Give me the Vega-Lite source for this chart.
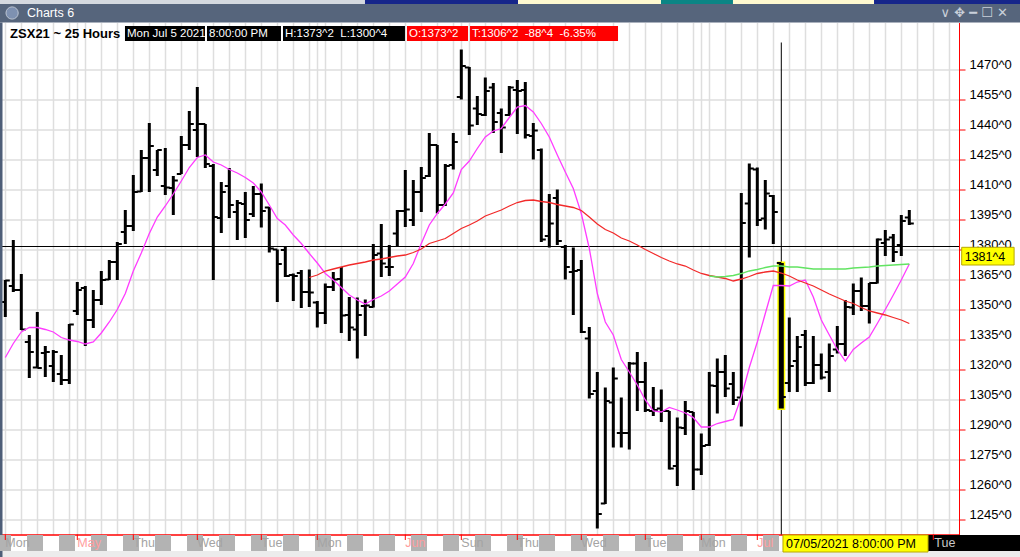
{
  "$schema": "https://vega.github.io/schema/vega-lite/v6.json",
  "width": 959,
  "height": 512,
  "autosize": {"type": "none"},
  "padding": {"left": 0, "top": 22.5, "right": 61, "bottom": 22.5},
  "background": "white",
  "config": {
    "view": {"stroke": null},
    "text": {"font": "Liberation Sans"},
    "axis": {"labelFont": "Liberation Sans"}
  },
  "datasets": {
    "bars": [
      {"n": 1, "open": 1353.75, "high": 1364.75, "low": 1346.25, "close": 1364.5},
      {"n": 2, "open": 1361.75, "high": 1384.75, "low": 1358.75, "close": 1359.75},
      {"n": 3, "open": 1359.75, "high": 1367.75, "low": 1339.75, "close": 1340},
      {"n": 4, "open": 1333.75, "high": 1337.25, "low": 1315.75, "close": 1328.75},
      {"n": 5, "open": 1321, "high": 1348.75, "low": 1320.75, "close": 1320.75},
      {"n": 6, "open": 1328.25, "high": 1331.75, "low": 1316.25, "close": 1328.75},
      {"n": 7, "open": 1321.75, "high": 1329.75, "low": 1313.75, "close": 1328.75},
      {"n": 8, "open": 1317.75, "high": 1327.25, "low": 1312.25, "close": 1314.75},
      {"n": 9, "open": 1314.75, "high": 1342.75, "low": 1312.75, "close": 1342.5},
      {"n": 10, "open": 1349.25, "high": 1363.75, "low": 1347.25, "close": 1359.75},
      {"n": 11, "open": 1360.75, "high": 1361.75, "low": 1331.75, "close": 1344.75},
      {"n": 12, "open": 1344.75, "high": 1359.75, "low": 1340.75, "close": 1354.75},
      {"n": 13, "open": 1354.75, "high": 1369.25, "low": 1352.25, "close": 1364.75},
      {"n": 14, "open": 1365, "high": 1374.75, "low": 1364.75, "close": 1373.75},
      {"n": 15, "open": 1373.75, "high": 1383.75, "low": 1364.75, "close": 1382.75},
      {"n": 16, "open": 1388.75, "high": 1399.75, "low": 1382.75, "close": 1391.75},
      {"n": 17, "open": 1391.75, "high": 1417.25, "low": 1389.25, "close": 1408.75},
      {"n": 18, "open": 1409, "high": 1429.75, "low": 1408.75, "close": 1425.75},
      {"n": 19, "open": 1425.75, "high": 1443.25, "low": 1408.75, "close": 1431.75},
      {"n": 20, "open": 1419.75, "high": 1429.75, "low": 1416.75, "close": 1429.75},
      {"n": 21, "open": 1411.75, "high": 1430.75, "low": 1407.25, "close": 1411},
      {"n": 22, "open": 1410.75, "high": 1416.75, "low": 1397.25, "close": 1414.5},
      {"n": 23, "open": 1417.75, "high": 1436.75, "low": 1417.75, "close": 1432.25},
      {"n": 24, "open": 1432.25, "high": 1449.25, "low": 1429.75, "close": 1442.75},
      {"n": 25, "open": 1439.75, "high": 1461.25, "low": 1426.25, "close": 1442.75},
      {"n": 26, "open": 1442.75, "high": 1442.75, "low": 1420.75, "close": 1422.75},
      {"n": 27, "open": 1421.75, "high": 1422.75, "low": 1364.75, "close": 1396.25},
      {"n": 28, "open": 1395.75, "high": 1413.75, "low": 1388.25, "close": 1408.75},
      {"n": 29, "open": 1411.75, "high": 1420.75, "low": 1395.75, "close": 1402.25},
      {"n": 30, "open": 1398.75, "high": 1404.75, "low": 1384.75, "close": 1403.25},
      {"n": 31, "open": 1402.75, "high": 1408.75, "low": 1385.75, "close": 1394.75},
      {"n": 32, "open": 1397.75, "high": 1411.75, "low": 1396.25, "close": 1407.75},
      {"n": 33, "open": 1407.75, "high": 1413, "low": 1391, "close": 1399.25},
      {"n": 34, "open": 1401, "high": 1401.25, "low": 1378.5, "close": 1380.5},
      {"n": 35, "open": 1380, "high": 1380, "low": 1353.75, "close": 1372.75},
      {"n": 36, "open": 1379.75, "high": 1381.25, "low": 1366.25, "close": 1366.75},
      {"n": 37, "open": 1367.25, "high": 1368, "low": 1354.25, "close": 1366.75},
      {"n": 38, "open": 1368.25, "high": 1369.75, "low": 1350.75, "close": 1358.75},
      {"n": 39, "open": 1358.75, "high": 1370, "low": 1351.25, "close": 1358.5},
      {"n": 40, "open": 1353.5, "high": 1354.25, "low": 1341, "close": 1348.25},
      {"n": 41, "open": 1348.25, "high": 1363, "low": 1342.75, "close": 1361.25},
      {"n": 42, "open": 1361.25, "high": 1368.75, "low": 1359.25, "close": 1365},
      {"n": 43, "open": 1365.25, "high": 1371.25, "low": 1338.25, "close": 1347},
      {"n": 44, "open": 1347.25, "high": 1356.25, "low": 1334.25, "close": 1341},
      {"n": 45, "open": 1340, "high": 1356, "low": 1325.5, "close": 1347.25},
      {"n": 46, "open": 1351.75, "high": 1355, "low": 1336.75, "close": 1352},
      {"n": 47, "open": 1351.25, "high": 1382.75, "low": 1351, "close": 1377.25},
      {"n": 48, "open": 1378, "high": 1392.75, "low": 1366.25, "close": 1373},
      {"n": 49, "open": 1371.25, "high": 1382.25, "low": 1366.75, "close": 1371.25},
      {"n": 50, "open": 1388, "high": 1399.75, "low": 1381.25, "close": 1399.25},
      {"n": 51, "open": 1399.25, "high": 1419.75, "low": 1391.25, "close": 1400},
      {"n": 52, "open": 1394.75, "high": 1414.75, "low": 1391.75, "close": 1408.75},
      {"n": 53, "open": 1408.75, "high": 1421.25, "low": 1398.75, "close": 1415.75},
      {"n": 54, "open": 1416.75, "high": 1438.25, "low": 1416.25, "close": 1432.25},
      {"n": 55, "open": 1432.25, "high": 1432.25, "low": 1398, "close": 1402.25},
      {"n": 56, "open": 1402.25, "high": 1422.75, "low": 1401.75, "close": 1421.75},
      {"n": 57, "open": 1422.25, "high": 1438.25, "low": 1420, "close": 1433.75},
      {"n": 58, "open": 1456.25, "high": 1480, "low": 1455, "close": 1471.75},
      {"n": 59, "open": 1471, "high": 1471.25, "low": 1437.25, "close": 1442},
      {"n": 60, "open": 1450.5, "high": 1456.75, "low": 1442.25, "close": 1447.75},
      {"n": 61, "open": 1447.25, "high": 1466, "low": 1446.75, "close": 1459.25},
      {"n": 62, "open": 1461, "high": 1463.25, "low": 1438.25, "close": 1443.75},
      {"n": 63, "open": 1448.25, "high": 1450.5, "low": 1428.25, "close": 1441},
      {"n": 64, "open": 1447.25, "high": 1461.75, "low": 1446.75, "close": 1461},
      {"n": 65, "open": 1459.75, "high": 1464.75, "low": 1437.75, "close": 1459.25},
      {"n": 66, "open": 1459.75, "high": 1463.75, "low": 1435.5, "close": 1437.25},
      {"n": 67, "open": 1436.75, "high": 1443.25, "low": 1425, "close": 1439.5},
      {"n": 68, "open": 1429.75, "high": 1430.5, "low": 1383.75, "close": 1385},
      {"n": 69, "open": 1386.75, "high": 1407.75, "low": 1381, "close": 1393},
      {"n": 70, "open": 1405.75, "high": 1410, "low": 1382.25, "close": 1384.25},
      {"n": 71, "open": 1381.25, "high": 1382.25, "low": 1365, "close": 1371.25},
      {"n": 72, "open": 1368.75, "high": 1381, "low": 1347.25, "close": 1369.25},
      {"n": 73, "open": 1369.75, "high": 1374.75, "low": 1338.25, "close": 1338.75},
      {"n": 74, "open": 1335.5, "high": 1341.25, "low": 1305.5, "close": 1307.75},
      {"n": 75, "open": 1309.25, "high": 1318.75, "low": 1240.5, "close": 1247.75},
      {"n": 76, "open": 1253, "high": 1311, "low": 1252.75, "close": 1304.25},
      {"n": 77, "open": 1303.5, "high": 1321, "low": 1281, "close": 1315.5},
      {"n": 78, "open": 1288.25, "high": 1306, "low": 1281, "close": 1288.25},
      {"n": 79, "open": 1288.25, "high": 1323.75, "low": 1280, "close": 1323},
      {"n": 80, "open": 1323, "high": 1328.75, "low": 1299.25, "close": 1313.75},
      {"n": 81, "open": 1313.75, "high": 1323.75, "low": 1298.75, "close": 1299.75},
      {"n": 82, "open": 1299.25, "high": 1311.25, "low": 1296.75, "close": 1299.75},
      {"n": 83, "open": 1300.5, "high": 1310, "low": 1293.75, "close": 1299.25},
      {"n": 84, "open": 1299.25, "high": 1299.25, "low": 1270, "close": 1270.5},
      {"n": 85, "open": 1271.75, "high": 1296, "low": 1261.75, "close": 1291},
      {"n": 86, "open": 1290.75, "high": 1304.25, "low": 1287.25, "close": 1299.25},
      {"n": 87, "open": 1298.75, "high": 1298.75, "low": 1259.75, "close": 1270},
      {"n": 88, "open": 1270, "high": 1288, "low": 1267.25, "close": 1281.75},
      {"n": 89, "open": 1282.25, "high": 1318.75, "low": 1281.75, "close": 1312},
      {"n": 90, "open": 1311.75, "high": 1325.5, "low": 1298, "close": 1318.75},
      {"n": 91, "open": 1318.75, "high": 1327.25, "low": 1306.25, "close": 1310.5},
      {"n": 92, "open": 1312.75, "high": 1318.75, "low": 1302.25, "close": 1304.75},
      {"n": 93, "open": 1306, "high": 1408.25, "low": 1291.5, "close": 1393.25},
      {"n": 94, "open": 1403, "high": 1423, "low": 1376, "close": 1420.5},
      {"n": 95, "open": 1420, "high": 1421, "low": 1391.75, "close": 1394.75},
      {"n": 96, "open": 1395.5, "high": 1414.75, "low": 1390, "close": 1408},
      {"n": 97, "open": 1406.75, "high": 1407.25, "low": 1382.75, "close": 1398.75},
      {"n": 98, "open": 1373.25, "high": 1373.25, "low": 1300.5, "close": 1306.25},
      {"n": 99, "open": 1313.25, "high": 1346, "low": 1308.75, "close": 1321.75},
      {"n": 100, "open": 1324.25, "high": 1336.75, "low": 1308.75, "close": 1331.25},
      {"n": 101, "open": 1337.25, "high": 1339.75, "low": 1311.75, "close": 1313.25},
      {"n": 102, "open": 1313.25, "high": 1336.75, "low": 1312.75, "close": 1322.25},
      {"n": 103, "open": 1322.25, "high": 1328, "low": 1315, "close": 1316},
      {"n": 104, "open": 1318.75, "high": 1333, "low": 1308.75, "close": 1326.75},
      {"n": 105, "open": 1330, "high": 1341.75, "low": 1328, "close": 1332.75},
      {"n": 106, "open": 1332.75, "high": 1354.75, "low": 1326.75, "close": 1351.25},
      {"n": 107, "open": 1351, "high": 1363, "low": 1347.25, "close": 1359.25},
      {"n": 108, "open": 1359.25, "high": 1366, "low": 1349.25, "close": 1351.75},
      {"n": 109, "open": 1351.75, "high": 1363.25, "low": 1343, "close": 1363.25},
      {"n": 110, "open": 1363.25, "high": 1385.5, "low": 1363, "close": 1385},
      {"n": 111, "open": 1383.25, "high": 1389.75, "low": 1376.75, "close": 1385},
      {"n": 112, "open": 1386, "high": 1387.75, "low": 1373.75, "close": 1378.75},
      {"n": 113, "open": 1382.25, "high": 1397.25, "low": 1376.75, "close": 1394.25},
      {"n": 114, "open": 1396, "high": 1399.75, "low": 1392.25, "close": 1393}
    ],
    "studies": [
      {"n": 1, "study": "fast", "value": 1326}, {"n": 2, "study": "fast", "value": 1333}, {"n": 3, "study": "fast", "value": 1338.75}, {"n": 4, "study": "fast", "value": 1341}, {"n": 5, "study": "fast", "value": 1341},
      {"n": 6, "study": "fast", "value": 1340}, {"n": 7, "study": "fast", "value": 1338.75}, {"n": 8, "study": "fast", "value": 1336}, {"n": 9, "study": "fast", "value": 1334.75}, {"n": 10, "study": "fast", "value": 1334},
      {"n": 11, "study": "fast", "value": 1332.75}, {"n": 12, "study": "fast", "value": 1333.75}, {"n": 13, "study": "fast", "value": 1338.25}, {"n": 14, "study": "fast", "value": 1343.75}, {"n": 15, "study": "fast", "value": 1350},
      {"n": 16, "study": "fast", "value": 1358}, {"n": 17, "study": "fast", "value": 1369.25}, {"n": 18, "study": "fast", "value": 1378.25}, {"n": 19, "study": "fast", "value": 1388}, {"n": 20, "study": "fast", "value": 1396.25},
      {"n": 21, "study": "fast", "value": 1401.75}, {"n": 22, "study": "fast", "value": 1407.75}, {"n": 23, "study": "fast", "value": 1414.25}, {"n": 24, "study": "fast", "value": 1421}, {"n": 25, "study": "fast", "value": 1426},
      {"n": 26, "study": "fast", "value": 1427.25}, {"n": 27, "study": "fast", "value": 1423.75}, {"n": 28, "study": "fast", "value": 1422.25}, {"n": 29, "study": "fast", "value": 1420}, {"n": 30, "study": "fast", "value": 1418.25},
      {"n": 31, "study": "fast", "value": 1416}, {"n": 32, "study": "fast", "value": 1413.25}, {"n": 33, "study": "fast", "value": 1408.75}, {"n": 34, "study": "fast", "value": 1402.25}, {"n": 35, "study": "fast", "value": 1395.5},
      {"n": 36, "study": "fast", "value": 1392.25}, {"n": 37, "study": "fast", "value": 1387.25}, {"n": 38, "study": "fast", "value": 1383}, {"n": 39, "study": "fast", "value": 1378}, {"n": 40, "study": "fast", "value": 1373.25},
      {"n": 41, "study": "fast", "value": 1368}, {"n": 42, "study": "fast", "value": 1364.75}, {"n": 43, "study": "fast", "value": 1361}, {"n": 44, "study": "fast", "value": 1357.25}, {"n": 45, "study": "fast", "value": 1354.75},
      {"n": 46, "study": "fast", "value": 1352.75}, {"n": 47, "study": "fast", "value": 1355}, {"n": 48, "study": "fast", "value": 1356.75}, {"n": 49, "study": "fast", "value": 1359.25}, {"n": 50, "study": "fast", "value": 1362.75},
      {"n": 51, "study": "fast", "value": 1366.25}, {"n": 52, "study": "fast", "value": 1373}, {"n": 53, "study": "fast", "value": 1383}, {"n": 54, "study": "fast", "value": 1392.25}, {"n": 55, "study": "fast", "value": 1398},
      {"n": 56, "study": "fast", "value": 1402.75}, {"n": 57, "study": "fast", "value": 1408.25}, {"n": 58, "study": "fast", "value": 1420}, {"n": 59, "study": "fast", "value": 1424.25}, {"n": 60, "study": "fast", "value": 1430.5},
      {"n": 61, "study": "fast", "value": 1436.25}, {"n": 62, "study": "fast", "value": 1439.25}, {"n": 63, "study": "fast", "value": 1440.5}, {"n": 64, "study": "fast", "value": 1446}, {"n": 65, "study": "fast", "value": 1451.25},
      {"n": 66, "study": "fast", "value": 1452}, {"n": 67, "study": "fast", "value": 1448.75}, {"n": 68, "study": "fast", "value": 1443}, {"n": 69, "study": "fast", "value": 1436.25}, {"n": 70, "study": "fast", "value": 1427.25},
      {"n": 71, "study": "fast", "value": 1418.75}, {"n": 72, "study": "fast", "value": 1410.5}, {"n": 73, "study": "fast", "value": 1398}, {"n": 74, "study": "fast", "value": 1380.5}, {"n": 75, "study": "fast", "value": 1358},
      {"n": 76, "study": "fast", "value": 1343.75}, {"n": 77, "study": "fast", "value": 1337.25}, {"n": 78, "study": "fast", "value": 1325}, {"n": 79, "study": "fast", "value": 1318.75}, {"n": 80, "study": "fast", "value": 1312.25},
      {"n": 81, "study": "fast", "value": 1304.75}, {"n": 82, "study": "fast", "value": 1299.25}, {"n": 83, "study": "fast", "value": 1298.75}, {"n": 84, "study": "fast", "value": 1301}, {"n": 85, "study": "fast", "value": 1299.75},
      {"n": 86, "study": "fast", "value": 1298.25}, {"n": 87, "study": "fast", "value": 1296}, {"n": 88, "study": "fast", "value": 1291.25}, {"n": 89, "study": "fast", "value": 1291.25}, {"n": 90, "study": "fast", "value": 1293},
      {"n": 91, "study": "fast", "value": 1294}, {"n": 92, "study": "fast", "value": 1295}, {"n": 93, "study": "fast", "value": 1306.25}, {"n": 94, "study": "fast", "value": 1321}, {"n": 95, "study": "fast", "value": 1333.75},
      {"n": 96, "study": "fast", "value": 1348}, {"n": 97, "study": "fast", "value": 1362}, {"n": 98, "study": "fast", "value": 1362}, {"n": 99, "study": "fast", "value": 1361.75}, {"n": 100, "study": "fast", "value": 1363.75},
      {"n": 101, "study": "fast", "value": 1364.75}, {"n": 102, "study": "fast", "value": 1356.25}, {"n": 103, "study": "fast", "value": 1344.75}, {"n": 104, "study": "fast", "value": 1337.25}, {"n": 105, "study": "fast", "value": 1330},
      {"n": 106, "study": "fast", "value": 1324.25}, {"n": 107, "study": "fast", "value": 1330}, {"n": 108, "study": "fast", "value": 1333.25}, {"n": 109, "study": "fast", "value": 1336.25}, {"n": 110, "study": "fast", "value": 1343},
      {"n": 111, "study": "fast", "value": 1350}, {"n": 112, "study": "fast", "value": 1357.25}, {"n": 113, "study": "fast", "value": 1364.75}, {"n": 114, "study": "fast", "value": 1372.75},
      {"n": 39, "study": "slow", "value": 1366}, {"n": 40, "study": "slow", "value": 1367.25}, {"n": 41, "study": "slow", "value": 1369.25}, {"n": 42, "study": "slow", "value": 1370.25}, {"n": 43, "study": "slow", "value": 1371.25},
      {"n": 44, "study": "slow", "value": 1372.25}, {"n": 45, "study": "slow", "value": 1373}, {"n": 46, "study": "slow", "value": 1373.75}, {"n": 47, "study": "slow", "value": 1374.75}, {"n": 48, "study": "slow", "value": 1375.25},
      {"n": 49, "study": "slow", "value": 1376}, {"n": 50, "study": "slow", "value": 1376.75}, {"n": 51, "study": "slow", "value": 1377.25}, {"n": 52, "study": "slow", "value": 1378.5}, {"n": 53, "study": "slow", "value": 1380.25},
      {"n": 54, "study": "slow", "value": 1383}, {"n": 55, "study": "slow", "value": 1384.25}, {"n": 56, "study": "slow", "value": 1385.5}, {"n": 57, "study": "slow", "value": 1388}, {"n": 58, "study": "slow", "value": 1390.5},
      {"n": 59, "study": "slow", "value": 1392.25}, {"n": 60, "study": "slow", "value": 1394.25}, {"n": 61, "study": "slow", "value": 1396.75}, {"n": 62, "study": "slow", "value": 1398.25}, {"n": 63, "study": "slow", "value": 1399.75},
      {"n": 64, "study": "slow", "value": 1401.75}, {"n": 65, "study": "slow", "value": 1403.5}, {"n": 66, "study": "slow", "value": 1404.5}, {"n": 67, "study": "slow", "value": 1404.75}, {"n": 68, "study": "slow", "value": 1404},
      {"n": 69, "study": "slow", "value": 1403.5}, {"n": 70, "study": "slow", "value": 1402.5}, {"n": 71, "study": "slow", "value": 1401.75}, {"n": 72, "study": "slow", "value": 1401}, {"n": 73, "study": "slow", "value": 1399.5},
      {"n": 74, "study": "slow", "value": 1396.25}, {"n": 75, "study": "slow", "value": 1392.75}, {"n": 76, "study": "slow", "value": 1390}, {"n": 77, "study": "slow", "value": 1388.25}, {"n": 78, "study": "slow", "value": 1385.75},
      {"n": 79, "study": "slow", "value": 1384.25}, {"n": 80, "study": "slow", "value": 1382.25}, {"n": 81, "study": "slow", "value": 1380}, {"n": 82, "study": "slow", "value": 1378}, {"n": 83, "study": "slow", "value": 1376},
      {"n": 84, "study": "slow", "value": 1374.25}, {"n": 85, "study": "slow", "value": 1372.75}, {"n": 86, "study": "slow", "value": 1371.75}, {"n": 87, "study": "slow", "value": 1369.75}, {"n": 88, "study": "slow", "value": 1368},
      {"n": 89, "study": "slow", "value": 1367}, {"n": 90, "study": "slow", "value": 1366.25}, {"n": 91, "study": "slow", "value": 1365.5}, {"n": 92, "study": "slow", "value": 1364.25}, {"n": 93, "study": "slow", "value": 1365.25},
      {"n": 94, "study": "slow", "value": 1366.5}, {"n": 95, "study": "slow", "value": 1368}, {"n": 96, "study": "slow", "value": 1368.75}, {"n": 97, "study": "slow", "value": 1369.25}, {"n": 98, "study": "slow", "value": 1368.25},
      {"n": 99, "study": "slow", "value": 1366.75}, {"n": 100, "study": "slow", "value": 1364.75}, {"n": 101, "study": "slow", "value": 1363.25}, {"n": 102, "study": "slow", "value": 1361.75}, {"n": 103, "study": "slow", "value": 1359.75},
      {"n": 104, "study": "slow", "value": 1357.75}, {"n": 105, "study": "slow", "value": 1356}, {"n": 106, "study": "slow", "value": 1354.25}, {"n": 107, "study": "slow", "value": 1353}, {"n": 108, "study": "slow", "value": 1351},
      {"n": 109, "study": "slow", "value": 1349.25}, {"n": 110, "study": "slow", "value": 1348.25}, {"n": 111, "study": "slow", "value": 1347.25}, {"n": 112, "study": "slow", "value": 1346}, {"n": 113, "study": "slow", "value": 1344.75},
      {"n": 114, "study": "slow", "value": 1343},
      {"n": 89, "study": "long", "value": 1366.75}, {"n": 90, "study": "long", "value": 1366.25}, {"n": 91, "study": "long", "value": 1366.5}, {"n": 92, "study": "long", "value": 1367}, {"n": 93, "study": "long", "value": 1368},
      {"n": 94, "study": "long", "value": 1369.25}, {"n": 95, "study": "long", "value": 1370}, {"n": 96, "study": "long", "value": 1371}, {"n": 97, "study": "long", "value": 1371.75}, {"n": 98, "study": "long", "value": 1371.75},
      {"n": 99, "study": "long", "value": 1371.25}, {"n": 100, "study": "long", "value": 1371.25}, {"n": 101, "study": "long", "value": 1370.75}, {"n": 102, "study": "long", "value": 1370.25}, {"n": 103, "study": "long", "value": 1370.25},
      {"n": 104, "study": "long", "value": 1370.25}, {"n": 105, "study": "long", "value": 1370.25}, {"n": 106, "study": "long", "value": 1370.25}, {"n": 107, "study": "long", "value": 1370.75}, {"n": 108, "study": "long", "value": 1371},
      {"n": 109, "study": "long", "value": 1371.25}, {"n": 110, "study": "long", "value": 1371.75}, {"n": 111, "study": "long", "value": 1372}, {"n": 112, "study": "long", "value": 1372.25}, {"n": 113, "study": "long", "value": 1372.5},
      {"n": 114, "study": "long", "value": 1372.75}
    ],
    "header": [
      {"label": "Mon Jul 5 2021", "from": 15.96, "to": 25.96, "tone": "info"},
      {"label": "8:00:00 PM", "from": 26.21, "to": 35.46, "tone": "info"},
      {"label": "H:1373^2\u00a0\u00a0L:1300^4", "from": 35.71, "to": 50.96, "tone": "info"},
      {"label": "O:1373^2", "from": 51.21, "to": 58.84, "tone": "alert"},
      {"label": "T:1306^2\u00a0\u00a0-88^4\u00a0\u00a0-6.35%", "from": 59.09, "to": 77.59, "tone": "alert"}
    ],
    "chrome": [
      {"part": "desk", "from": 0.3375, "to": 45.96, "top": 1505.5, "bottom": 1502.75},
      {"part": "navy", "from": 45.96, "to": 65.09, "top": 1505.5, "bottom": 1502.75},
      {"part": "cream", "from": 65.09, "to": 82.96, "top": 1505.5, "bottom": 1502.75},
      {"part": "teal", "from": 82.96, "to": 91.96, "top": 1505.5, "bottom": 1502.75},
      {"part": "cream", "from": 91.96, "to": 109.59, "top": 1505.5, "bottom": 1502.75},
      {"part": "navy", "from": 109.59, "to": 128, "top": 1505.5, "bottom": 1502.75},
      {"part": "titlebar", "from": 0.3375, "to": 128, "top": 1502.75, "bottom": 1493.5},
      {"part": "frame", "from": 0.3375, "to": 128, "top": 1229.25, "bottom": 1225.5},
      {"part": "future", "from": 116.34, "to": 128, "top": 1237.25, "bottom": 1229.25},
      {"part": "border", "from": 0.3375, "to": 0.65, "top": 1493.5, "bottom": 1225.5}
    ],
    "sessions": [
      {"from": 0.3375, "to": 1.7125}, {"from": 3.7125, "to": 5.7125}, {"from": 7.7125, "to": 9.7125},
      {"from": 11.7125, "to": 13.7125}, {"from": 15.7125, "to": 17.7125}, {"from": 19.7125, "to": 21.7125},
      {"from": 23.7125, "to": 25.7125}, {"from": 27.7125, "to": 29.7125}, {"from": 31.7125, "to": 33.7125},
      {"from": 35.7125, "to": 37.7125}, {"from": 39.7125, "to": 41.7125}, {"from": 43.7125, "to": 45.7125},
      {"from": 47.7125, "to": 49.7125}, {"from": 51.7125, "to": 53.7125}, {"from": 55.7125, "to": 57.7125},
      {"from": 59.7125, "to": 61.7125}, {"from": 63.7125, "to": 65.7125}, {"from": 67.7125, "to": 69.7125},
      {"from": 71.7125, "to": 73.7125}, {"from": 75.7125, "to": 77.7125}, {"from": 79.7125, "to": 81.7125},
      {"from": 83.7125, "to": 85.7125}, {"from": 87.7125, "to": 89.7125}, {"from": 91.7125, "to": 93.7125},
      {"from": 95.7125, "to": 97.7125}
    ],
    "days": [
      {"n": 1, "label": "Mon", "kind": "day"},
      {"n": 10, "label": "May", "kind": "month"},
      {"n": 17, "label": "Thu", "kind": "day"},
      {"n": 25, "label": "Wed", "kind": "day"},
      {"n": 33, "label": "Tue", "kind": "day"},
      {"n": 40, "label": "Mon", "kind": "day"},
      {"n": 51, "label": "Jun", "kind": "month"},
      {"n": 58, "label": "Sun", "kind": "day"},
      {"n": 65, "label": "Thu", "kind": "day"},
      {"n": 73, "label": "Wed", "kind": "day"},
      {"n": 81, "label": "Tue", "kind": "day"},
      {"n": 88, "label": "Mon", "kind": "day"},
      {"n": 95, "label": "Jul", "kind": "month"},
      {"n": 117, "label": "Tue", "kind": "future"}
    ],
    "flags": [
      {"box": "time", "from": 98.21, "to": 116.34, "top": 1237.25, "bottom": 1228.75, "text": "07/05/2021 8:00:00 PM"},
      {"box": "price", "from": 120.55, "to": 127.1, "top": 1381.1, "bottom": 1372.25, "text": "1381^4"}
    ]
  },
  "layer": [
    {
      "data": {"name": "bars"},
      "mark": {"type": "rule", "color": "black", "strokeWidth": 3},
      "encoding": {
        "x": {
          "field": "n", "type": "quantitative",
          "scale": {"domain": [0.3375, 120.2125], "nice": false, "zero": false},
          "axis": {
            "orient": "bottom", "title": null, "labels": false, "ticks": false,
            "domain": true, "domainColor": "#ff0000", "domainWidth": 1.5,
            "grid": true, "gridColor": "#dedede", "gridWidth": 1.5, "tickCount": 500,
            "values": [1, 3, 5, 7, 9, 10, 11, 13, 15, 17, 19, 21, 23, 25, 27, 29, 31, 33, 35, 37, 39, 40, 41, 43, 45, 47, 49, 51, 53, 55, 57, 58, 59, 61, 63, 65, 67, 69, 71, 73, 75, 77, 79, 81, 83, 85, 87, 88, 89, 91, 93, 95, 97, 99, 101, 103, 105, 107, 109, 111, 113, 115, 117, 119]
          }
        },
        "y": {
          "field": "low", "type": "quantitative",
          "scale": {"domain": [1237.5, 1493.5], "nice": false, "zero": false},
          "axis": {
            "orient": "right", "title": null, "tickCount": 500, "labelOverlap": false,
            "values": [1245, 1260, 1275, 1290, 1305, 1320, 1335, 1350, 1365, 1380, 1395, 1410, 1425, 1440, 1455, 1470],
            "labelExpr": "datum.value + '^0'",
            "domainColor": "#ff0000", "domainWidth": 1,
            "tickColor": "#ff0000", "tickSize": 6, "tickWidth": 1,
            "labelColor": "black", "labelFontSize": 13, "labelPadding": 4,
            "labelBaseline": "alphabetic", "labelOffset": -1.5,
            "grid": true, "gridColor": "#dedede", "gridWidth": 1.5
          }
        },
        "y2": {"field": "high"}
      }
    },
    {
      "data": {"values": [{"price": 1381.5}]},
      "mark": {"type": "rule", "color": "black", "strokeWidth": 1},
      "encoding": {
        "y": {"field": "price", "type": "quantitative", "scale": {"domain": [1237.5, 1493.5], "nice": false, "zero": false}}
      }
    },
    {
      "data": {"values": [{"n": 98}]},
      "mark": {"type": "rule", "color": "black", "strokeWidth": 1},
      "encoding": {
        "x": {"field": "n", "type": "quantitative", "scale": {"domain": [0.3375, 120.2125], "nice": false, "zero": false}},
        "y": {"datum": 1483.5, "type": "quantitative", "scale": {"domain": [1237.5, 1493.5], "nice": false, "zero": false}},
        "y2": {"datum": 1237.5}
      }
    },
    {
      "data": {"name": "bars"},
      "transform": [{"filter": "datum.n == 98"}],
      "mark": {"type": "rule", "color": "#ffff00", "strokeWidth": 8, "yOffset": 1.5, "y2Offset": -1.5},
      "encoding": {
        "x": {"field": "n", "type": "quantitative", "scale": {"domain": [0.3375, 120.2125], "nice": false, "zero": false}},
        "y": {"field": "low", "type": "quantitative", "scale": {"domain": [1237.5, 1493.5], "nice": false, "zero": false}},
        "y2": {"field": "high"}
      }
    },
    {
      "data": {"name": "bars"},
      "transform": [{"filter": "datum.n == 98"}],
      "mark": {"type": "rule", "color": "black", "strokeWidth": 5},
      "encoding": {
        "x": {"field": "n", "type": "quantitative", "scale": {"domain": [0.3375, 120.2125], "nice": false, "zero": false}},
        "y": {"field": "low", "type": "quantitative", "scale": {"domain": [1237.5, 1493.5], "nice": false, "zero": false}},
        "y2": {"field": "high"}
      }
    },
    {
      "data": {"name": "bars"},
      "mark": {"type": "rule", "color": "black", "strokeWidth": 2, "xOffset": -4.5, "x2Offset": 0},
      "encoding": {
        "x": {"field": "n", "type": "quantitative", "scale": {"domain": [0.3375, 120.2125], "nice": false, "zero": false}},
        "x2": {"field": "n"},
        "y": {"field": "open", "type": "quantitative", "scale": {"domain": [1237.5, 1493.5], "nice": false, "zero": false}}
      }
    },
    {
      "data": {"name": "bars"},
      "mark": {"type": "rule", "color": "black", "strokeWidth": 2, "xOffset": 0, "x2Offset": 4.5},
      "encoding": {
        "x": {"field": "n", "type": "quantitative", "scale": {"domain": [0.3375, 120.2125], "nice": false, "zero": false}},
        "x2": {"field": "n"},
        "y": {"field": "close", "type": "quantitative", "scale": {"domain": [1237.5, 1493.5], "nice": false, "zero": false}}
      }
    },
    {
      "data": {"name": "studies"},
      "mark": {"type": "line", "strokeWidth": 1.3, "interpolate": "linear"},
      "encoding": {
        "x": {"field": "n", "type": "quantitative", "scale": {"domain": [0.3375, 120.2125], "nice": false, "zero": false}},
        "y": {"field": "value", "type": "quantitative", "scale": {"domain": [1237.5, 1493.5], "nice": false, "zero": false}},
        "stroke": {"field": "study", "type": "nominal", "scale": {"domain": ["fast", "slow", "long"], "range": ["#ff3cff", "#f22a2a", "#62e462"]}, "legend": null}
      }
    },
    {
      "data": {"name": "header"},
      "mark": {"type": "rect"},
      "encoding": {
        "x": {"field": "from", "type": "quantitative", "scale": {"domain": [0.3375, 120.2125], "nice": false, "zero": false}},
        "x2": {"field": "to"},
        "y": {"datum": 1491.75, "type": "quantitative", "scale": {"domain": [1237.5, 1493.5], "nice": false, "zero": false}},
        "y2": {"datum": 1484.25},
        "fill": {"field": "tone", "type": "nominal", "scale": {"domain": ["info", "alert"], "range": ["#000000", "#ff0000"]}, "legend": null}
      }
    },
    {
      "data": {"name": "header"},
      "mark": {"type": "text", "align": "left", "baseline": "middle", "dx": 2, "fontSize": 11.5, "color": "white"},
      "encoding": {
        "x": {"field": "from", "type": "quantitative", "scale": {"domain": [0.3375, 120.2125], "nice": false, "zero": false}},
        "y": {"datum": 1488, "type": "quantitative", "scale": {"domain": [1237.5, 1493.5], "nice": false, "zero": false}},
        "text": {"field": "label"}
      }
    },
    {
      "data": {"values": [{"label": "ZSX21 ~ 25 Hours"}]},
      "mark": {"type": "text", "align": "left", "baseline": "middle", "fontSize": 13, "fontWeight": "bold", "color": "black"},
      "encoding": {
        "x": {"datum": 1.6, "type": "quantitative", "scale": {"domain": [0.3375, 120.2125], "nice": false, "zero": false}},
        "y": {"datum": 1488, "type": "quantitative", "scale": {"domain": [1237.5, 1493.5], "nice": false, "zero": false}},
        "text": {"field": "label"}
      }
    },
    {
      "data": {"name": "chrome"},
      "mark": {"type": "rect"},
      "encoding": {
        "x": {"field": "from", "type": "quantitative", "scale": {"domain": [0.3375, 120.2125], "nice": false, "zero": false}},
        "x2": {"field": "to"},
        "y": {"field": "top", "type": "quantitative", "scale": {"domain": [1237.5, 1493.5], "nice": false, "zero": false}},
        "y2": {"field": "bottom"},
        "fill": {
          "field": "part", "type": "nominal", "legend": null,
          "scale": {
            "domain": ["desk", "navy", "cream", "teal", "titlebar", "frame", "future", "border"],
            "range": ["#d5d9df", "#16268a", "#fff9cf", "#0b8585", "#56657c", "#ececec", "#000000", "#4e5e78"]
          }
        }
      }
    },
    {
      "data": {"values": [{"label": "Charts 6"}]},
      "mark": {"type": "text", "align": "left", "baseline": "middle", "fontSize": 12.5, "color": "white"},
      "encoding": {
        "x": {"datum": 3.7, "type": "quantitative", "scale": {"domain": [0.3375, 120.2125], "nice": false, "zero": false}},
        "y": {"datum": 1498.25, "type": "quantitative", "scale": {"domain": [1237.5, 1493.5], "nice": false, "zero": false}},
        "text": {"field": "label"}
      }
    },
    {
      "data": {"values": [{"label": "icon"}]},
      "mark": {"type": "point", "shape": "circle", "filled": true, "size": 150, "color": "#8fa4c8", "stroke": "#e8eef8", "strokeWidth": 1},
      "encoding": {
        "x": {"datum": 1.85, "type": "quantitative", "scale": {"domain": [0.3375, 120.2125], "nice": false, "zero": false}},
        "y": {"datum": 1498.25, "type": "quantitative", "scale": {"domain": [1237.5, 1493.5], "nice": false, "zero": false}}
      }
    },
    {
      "data": {"values": [{"label": "\u2228  \u2725  \u2501  \u2610  \u2715"}]},
      "mark": {"type": "text", "align": "left", "baseline": "middle", "fontSize": 13, "font": "DejaVu Sans", "color": "#c9d0da"},
      "encoding": {
        "x": {"datum": 117.9, "type": "quantitative", "scale": {"domain": [0.3375, 120.2125], "nice": false, "zero": false}},
        "y": {"datum": 1498.25, "type": "quantitative", "scale": {"domain": [1237.5, 1493.5], "nice": false, "zero": false}},
        "text": {"field": "label"}
      }
    },
    {
      "data": {"name": "sessions"},
      "mark": {"type": "rect", "color": "#b3b3b3"},
      "encoding": {
        "x": {"field": "from", "type": "quantitative", "scale": {"domain": [0.3375, 120.2125], "nice": false, "zero": false}},
        "x2": {"field": "to"},
        "y": {"datum": 1237.25, "type": "quantitative", "scale": {"domain": [1237.5, 1493.5], "nice": false, "zero": false}},
        "y2": {"datum": 1229.25}
      }
    },
    {
      "data": {"name": "days"},
      "transform": [{"filter": "datum.kind != 'future'"}],
      "mark": {"type": "text", "align": "left", "baseline": "middle", "fontSize": 12.5},
      "encoding": {
        "x": {"field": "n", "type": "quantitative", "scale": {"domain": [0.3375, 120.2125], "nice": false, "zero": false}},
        "y": {"datum": 1233.25, "type": "quantitative", "scale": {"domain": [1237.5, 1493.5], "nice": false, "zero": false}},
        "text": {"field": "label"},
        "color": {"field": "kind", "type": "nominal", "scale": {"domain": ["day", "month"], "range": ["#a4a4a4", "#ff9d9d"]}, "legend": null}
      }
    },
    {
      "data": {"name": "days"},
      "transform": [{"filter": "datum.kind == 'future'"}],
      "mark": {"type": "text", "align": "left", "baseline": "middle", "fontSize": 12.5, "color": "#c8c8c8", "dx": 1},
      "encoding": {
        "x": {"field": "n", "type": "quantitative", "scale": {"domain": [0.3375, 120.2125], "nice": false, "zero": false}},
        "y": {"datum": 1233.25, "type": "quantitative", "scale": {"domain": [1237.5, 1493.5], "nice": false, "zero": false}},
        "text": {"field": "label"}
      }
    },
    {
      "data": {"name": "days"},
      "mark": {"type": "rule", "color": "#ff0000", "strokeWidth": 1},
      "encoding": {
        "x": {"field": "n", "type": "quantitative", "scale": {"domain": [0.3375, 120.2125], "nice": false, "zero": false}},
        "y": {"datum": 1237.5, "type": "quantitative", "scale": {"domain": [1237.5, 1493.5], "nice": false, "zero": false}},
        "y2": {"datum": 1234.75}
      }
    },
    {
      "data": {"name": "flags"},
      "mark": {"type": "rect", "fill": "#ffff00", "stroke": "#b8a800", "strokeWidth": 1},
      "encoding": {
        "x": {"field": "from", "type": "quantitative", "scale": {"domain": [0.3375, 120.2125], "nice": false, "zero": false}},
        "x2": {"field": "to"},
        "y": {"field": "top", "type": "quantitative", "scale": {"domain": [1237.5, 1493.5], "nice": false, "zero": false}},
        "y2": {"field": "bottom"}
      }
    },
    {
      "data": {"name": "flags"},
      "mark": {"type": "text", "align": "left", "baseline": "alphabetic", "dx": 3, "dy": -4, "fontSize": 12.5, "color": "black"},
      "encoding": {
        "x": {"field": "from", "type": "quantitative", "scale": {"domain": [0.3375, 120.2125], "nice": false, "zero": false}},
        "y": {"field": "bottom", "type": "quantitative", "scale": {"domain": [1237.5, 1493.5], "nice": false, "zero": false}},
        "text": {"field": "text"}
      }
    }
  ],
  "resolve": {"scale": {"fill": "independent", "stroke": "independent", "color": "independent"}}
}
